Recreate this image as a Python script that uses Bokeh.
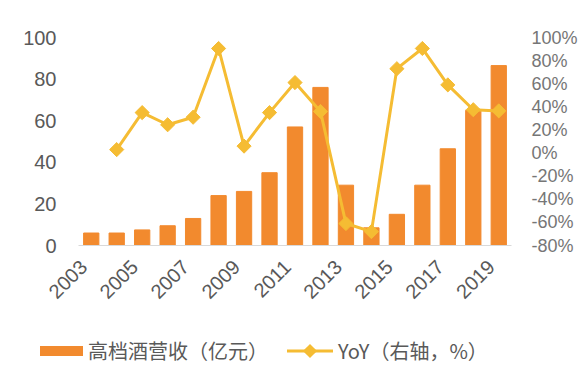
import math
from bokeh.plotting import figure
from bokeh.layouts import column
from bokeh.models import Range1d, LinearAxis, FixedTicker, PrintfTickFormatter, Div
from bokeh.embed import file_html
from bokeh.resources import INLINE

years = list(range(2003, 2020))
revenue = [6, 6, 7.5, 9.5, 13, 24, 26, 35, 57, 76, 29, 8.5, 15, 29, 46.5, 65, 86.5]
yoy_years = list(range(2004, 2020))
yoy = [3, 35, 24.5, 31, 90.5, 6, 35, 61, 36, -61, -68, 73, 90.5, 59, 37.5, 36.5]
xtick_years = [2003, 2005, 2007, 2009, 2011, 2013, 2015, 2017, 2019]
left_ticks = [0, 20, 40, 60, 80, 100]
right_ticks = [-80, -60, -40, -20, 0, 20, 40, 60, 80, 100]
legend_labels = ["高档酒营收（亿元）", "YoY（右轴，%）"]

BAR = "#F28A2E"
LINE = "#F5BC33"
NUM_FONT = "Liberation Sans"
CJK_FONT = "Noto Sans CJK SC"

p = figure(width=584, height=322, output_backend="svg", toolbar_location=None,
           x_range=Range1d(2002.5, 2019.5), y_range=Range1d(0, 100),
           min_border_left=78, min_border_right=73, min_border_top=37, min_border_bottom=77)
p.outline_line_color = None
p.xgrid.visible = False
p.ygrid.visible = False

p.extra_y_ranges = {"yoy": Range1d(-80, 100)}

p.vbar(x=years, top=revenue, width=0.6, color=BAR)
p.line(x=yoy_years, y=yoy, y_range_name="yoy", line_color=LINE, line_width=3)
p.scatter(x=yoy_years, y=yoy, y_range_name="yoy", marker="square", angle=math.pi / 4,
          size=10, fill_color=LINE, line_color=LINE)

# x axis (label anchors nudged slightly left of the bar centres, as in the original)
label_shift = 0.3
xa = p.xaxis[0]
xa.ticker = FixedTicker(ticks=[y - label_shift for y in xtick_years])
xa.major_label_overrides = {y - label_shift: str(y) for y in xtick_years}
xa.major_label_orientation = math.pi / 4
xa.major_tick_line_color = None
xa.minor_tick_line_color = None
xa.axis_line_color = "#D9D9D9"
xa.axis_line_width = 1
xa.major_label_text_font = NUM_FONT
xa.major_label_text_font_size = "20px"
xa.major_label_text_color = "#595959"
xa.major_label_standoff = 12

# left axis
ya = p.yaxis[0]
ya.ticker = FixedTicker(ticks=left_ticks)
ya.major_tick_line_color = None
ya.minor_tick_line_color = None
ya.axis_line_color = None
ya.major_label_text_font = NUM_FONT
ya.major_label_text_font_size = "20px"
ya.major_label_text_color = "#595959"
ya.major_label_standoff = 16

# right axis
ra = LinearAxis(y_range_name="yoy", ticker=FixedTicker(ticks=right_ticks),
                formatter=PrintfTickFormatter(format="%d%%"))
ra.major_tick_line_color = None
ra.minor_tick_line_color = None
ra.axis_line_color = None
ra.major_label_text_font = NUM_FONT
ra.major_label_text_font_size = "18px"
ra.major_label_text_color = "#767676"
ra.major_label_standoff = 14
p.add_layout(ra, "right")

# legend strip
legend_html = f"""
<div style="display:flex;align-items:center;height:58px;padding-left:40px;box-sizing:border-box;
            font-family:'{CJK_FONT}';font-size:20px;color:#595959;white-space:nowrap;">
  <span style="display:inline-block;width:43px;height:10px;background:{BAR};"></span>
  <span style="margin-left:5px;">{legend_labels[0]}</span>
  <svg width="46" height="16" style="margin-left:19px;display:block;">
    <line x1="0" y1="8" x2="46" y2="8" stroke="{LINE}" stroke-width="3"/>
    <rect x="18" y="3" width="10" height="10" fill="{LINE}" transform="rotate(45 23 8)"/>
  </svg>
  <span style="margin-left:5px;">{legend_labels[1]}</span>
</div>
"""
lg = Div(text=legend_html, width=584, height=58, margin=0)

layout = column(p, lg, spacing=0)
open("out.html", "w").write(file_html(layout, INLINE))
